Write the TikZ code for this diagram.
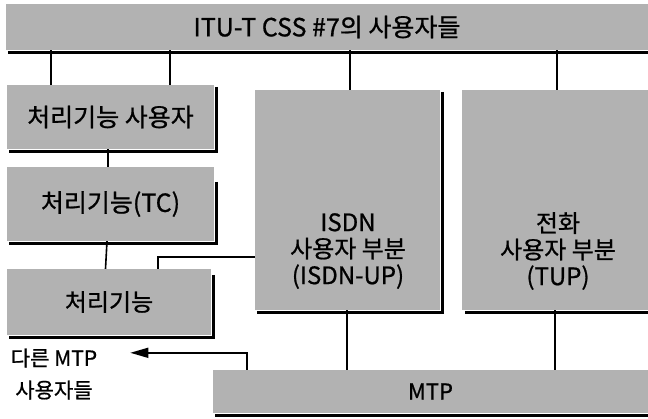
\documentclass[tikz,border=0pt]{standalone}
\usepackage{fontspec}
\setmainfont[FakeBold=0.8]{Noto Sans CJK KR}
\usetikzlibrary{arrows.meta,calc}
\begin{document}
\begin{tikzpicture}[x=1pt,y=-1pt,
  box/.style={fill=black!30, inner sep=0pt, align=center},
  txt/.style={inner sep=0pt, align=center},
  shadowline/.style={line width=3.4pt, black},
  conn/.style={line width=1.6pt, black}]
\useasboundingbox (0,0) rectangle (648,418);
% boxes
\node[box, minimum width=642pt, minimum height=46pt, font=\fontsize{25}{28}\selectfont] (top) at (327,27) {ITU-T CSS \#7의 사용자들};
\node[box, minimum width=207pt, minimum height=64pt, font=\fontsize{25}{28}\selectfont] (b1) at (110.5,117) {처리기능 사용자};
\node[box, minimum width=207pt, minimum height=74pt, font=\fontsize{25}{28}\selectfont] (b2) at (110.5,204) {처리기능(TC)};
\node[box, minimum width=204pt, minimum height=66pt, font=\fontsize{24}{28}\selectfont] (b3) at (109,302) {처리기능};
\node[box, minimum width=185pt, minimum height=220pt] (isdn) at (347.5,200) {};
\node[box, minimum width=186pt, minimum height=220pt] (tup) at (555,200) {};
\node[box, minimum width=435pt, minimum height=43pt, font=\fontsize{22}{26}\selectfont] (mtp) at (430.5,391.5) {MTP};
\node[txt, font=\fontsize{24}{26.5}\selectfont] (isdnT) at (348,251) {ISDN\\사용자 부분\\(ISDN-UP)};
\node[txt, font=\fontsize{24}{26.5}\selectfont] (tupT) at (558,251) {전화\\사용자 부분\\(TUP)};
\node[txt, font=\fontsize{21}{32}\selectfont] (other) at (54,374) {다른 MTP\\사용자들};
% shadows
\draw[shadowline] ($(top.south west)+(2,2)$) -- ($(top.south east)+(0,2)$);
\draw[shadowline] ($(b1.north east)+(2,2)$) -- ($(b1.south east)+(2,2)$) -- ($(b1.south west)+(2,2)$);
\draw[shadowline] ($(b2.north east)+(2,15)$) -- ($(b2.south east)+(2,2)$) -- ($(b2.south west)+(2,2)$);
\draw[shadowline] ($(b3.north east)+(2,6)$) -- ($(b3.south east)+(2,2)$) -- ($(b3.south west)+(2,2)$);
\draw[shadowline] ($(isdn.north east)+(2,2)$) -- ($(isdn.south east)+(2,2)$) -- ($(isdn.south west)+(2,2)$);
\draw[shadowline] ($(tup.south east)+(0,2)$) -- ($(tup.south west)+(3,2)$);
\draw[shadowline] ($(mtp.south east)+(0,2)$) -- ($(mtp.south west)+(2,2)$);
% connectors
\draw[conn] ([xshift=44pt]b1.north west) -- ([xshift=44pt]b1.north west |- top.south);
\draw[conn] ([xshift=163pt]b1.north west) -- ([xshift=163pt]b1.north west |- top.south);
\draw[conn] ([xshift=2.5pt]isdn.north) -- ([xshift=2.5pt]isdn.north |- top.south);
\draw[conn] ([xshift=2pt]tup.north) -- ([xshift=2pt]tup.north |- top.south);
\draw[conn] ([xshift=-2.5pt]b1.south) -- ([xshift=-2.5pt]b2.north);
\draw[conn] ([xshift=-3.5pt]b2.south) -- ([xshift=-3.5pt]b3.north);
\coordinate (j1) at ($(b3.north west)+(151,-12)$);
\draw[conn] ([xshift=151pt]b3.north west) -- (j1) -- (j1 -| isdn.west);
\draw[conn] ([xshift=-0.5pt]isdn.south) -- ([xshift=-0.5pt]isdn.south |- mtp.north);
\draw[conn] (tup.south) -- (tup.south |- mtp.north);
\coordinate (j2) at ($(mtp.north west)+(34,-17)$);
\coordinate (tip) at ($(other.north east)+(33,0)$);
\draw[conn, -{Triangle[length=18pt,width=10pt]}] ([xshift=34pt]mtp.north west) -- (j2) -- (j2 -| tip);
\end{tikzpicture}
\end{document}
